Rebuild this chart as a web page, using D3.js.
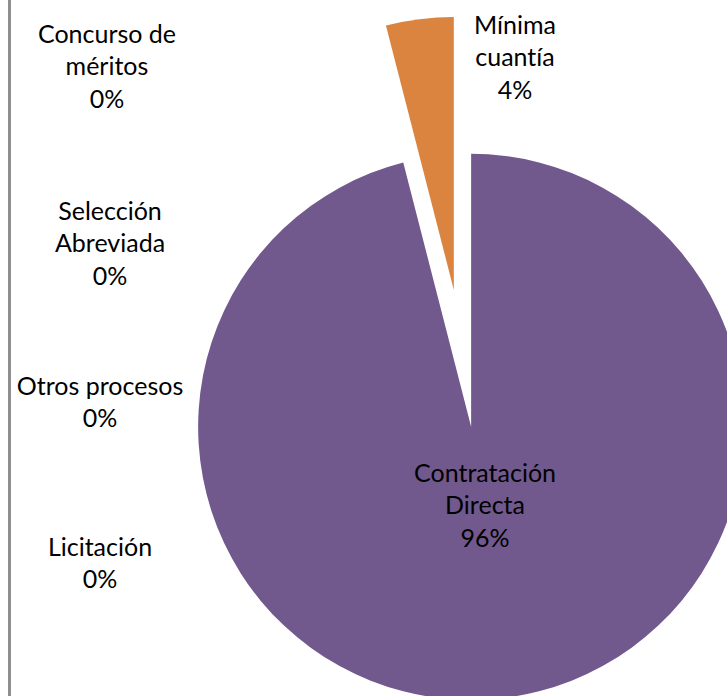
<!DOCTYPE html>
<html>
<head>
<meta charset="utf-8">
<script src="https://cdn.jsdelivr.net/npm/d3@7"></script>
<style>
  html, body { margin: 0; padding: 0; background: #fff; }
  svg { display: block; }
  text { font-family: Lato, "Open Sans", sans-serif; fill: #000; font-variant-ligatures: none; font-feature-settings: "liga" 0; }
</style>
</head>
<body>
<svg id="chart" width="727" height="696"></svg>
<script>
// data, in the order the pie draws them (clockwise from 12 o'clock)
const categories = ['Contratación Directa', 'Mínima cuantía', 'Licitación', 'Otros procesos', 'Selección Abreviada', 'Concurso de méritos'];
const shares = [96, 4, 0, 0, 0, 0];
const labelLines = [
    ['Contratación', 'Directa'],
    ['Mínima', 'cuantía'],
    ['Licitación'],
    ['Otros procesos'],
    ['Selección', 'Abreviada'],
    ['Concurso de', 'méritos']
];
const colors = ['#71598e', '#da843f', '#4f81bd', '#c0504d', '#9bbb59', '#4bacc6'];

const svg = d3.select('#chart');
const width = +svg.attr('width');
const height = +svg.attr('height');

// left frame line
svg.append('rect')
    .attr('x', 8).attr('y', 0)
    .attr('width', 3).attr('height', height)
    .attr('fill', '#8f8f8f');

const radius = 273;
const cx = 469, cy = 410;
// exploded distance per slice
const explode = { 'Contratación Directa': 17, 'Mínima cuantía': 121 };

const data = categories.map((c, i) => ({ name: c, value: shares[i], lines: labelLines[i], color: colors[i] }));

const pie = d3.pie().sort(null).value(d => d.value);
const arc = d3.arc().innerRadius(0).outerRadius(radius);
const arcs = pie(data);

const g = svg.append('g').attr('transform', `translate(${cx},${cy})`);

function shift(d) {
    const e = explode[d.data.name] || 0;
    const a = (d.startAngle + d.endAngle) / 2;
    return [Math.sin(a) * e, -Math.cos(a) * e];
}

g.selectAll('path.slice')
    .data(arcs.filter(d => d.value > 0))
    .join('path')
    .attr('class', 'slice')
    .attr('d', arc)
    .attr('fill', d => d.data.color)
    .attr('transform', d => `translate(${shift(d)})`);

// label spots: the big slice sits inside, the rest were pushed aside
const labelArc = d3.arc().innerRadius(radius * 0.29).outerRadius(radius * 0.29);
const outsideSpots = {
    'Mínima cuantía': [515, 57],
    'Concurso de méritos': [107, 66],
    'Selección Abreviada': [110, 243],
    'Otros procesos': [100, 402],
    'Licitación': [100, 563]
};

const lineH = 32.5;
const fontSize = 25;

arcs.forEach(d => {
    let x, y;
    if (outsideSpots[d.data.name]) {
        [x, y] = outsideSpots[d.data.name];
    } else {
        const c = labelArc.centroid(d);
        const s = shift(d);
        x = cx + c[0] + s[0] + 4;
        y = cy + c[1] + s[1];
    }
    const lines = d.data.lines.concat([d3.format('.0f')(d.data.value) + '%']);
    const top = y - (lines.length - 1) * lineH / 2;
    const t = svg.append('text')
        .attr('text-anchor', 'middle')
        .attr('font-size', fontSize);
    lines.forEach((ln, i) => {
        t.append('tspan')
            .attr('x', x)
            .attr('y', top + i * lineH)
            .attr('dy', '0.36em')
            .text(ln);
    });
});
</script>
</body>
</html>
